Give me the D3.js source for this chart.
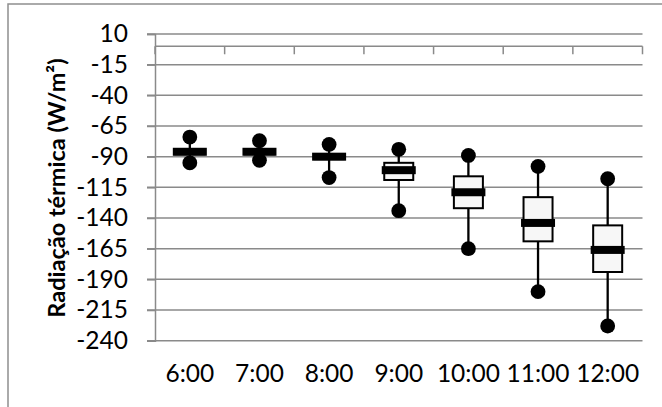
<!DOCTYPE html>
<html><head><meta charset="utf-8">
<script src="https://cdn.jsdelivr.net/npm/d3@7"></script>
<style>
html,body{margin:0;padding:0;background:#fff;}
svg{display:block;font-family:Lato,"Open Sans",sans-serif;}
</style></head>
<body><svg id="c" width="662" height="407"></svg>
<script>
const categories = ["6:00","7:00","8:00","9:00","10:00","11:00","12:00"];
const maxVals    = [-74, -77, -80, -84, -89, -98, -108];
const q3Vals     = [-84, -84, -88, -95, -106, -123, -146];
const medianVals = [-86, -86, -90, -101, -119, -144, -166];
const q1Vals     = [-88, -88, -92, -109, -132, -159, -184];
const minVals    = [-95, -93, -107, -134, -165, -200, -228];
const yTicks = [10,-15,-40,-65,-90,-115,-140,-165,-190,-215,-240];
const yTitle = "Radiação térmica (W/m²)";

const svg = d3.select("#c");
const pL = 155, pR = 642.5, pT = 34, pB = 340.7;
const grid = "#8a8a8a";

svg.append("rect").attr("x",8).attr("y",4).attr("width",700).attr("height",500)
  .attr("fill","none").attr("stroke","#8f8f8f").attr("stroke-width",1.5);

const x = d3.scaleBand().domain(categories).range([pL,pR]).paddingInner(0).paddingOuter(0);
const y = d3.scaleLinear().domain([-240,10]).range([pB,pT]);

// gridlines
svg.append("g").selectAll("line").data(yTicks).join("line")
  .attr("x1",pL-8).attr("x2",pR).attr("y1",d=>y(d)).attr("y2",d=>y(d))
  .attr("stroke",grid).attr("stroke-width",1.5);

// y axis
const ya = svg.append("g").attr("transform",`translate(${pL},0)`)
  .call(d3.axisLeft(y).tickValues(yTicks).tickSize(8).tickPadding(19).tickFormat(d=>String(d)));
ya.select(".domain").attr("stroke",grid).attr("stroke-width",1.5);
ya.selectAll(".tick line").attr("stroke",grid).attr("stroke-width",1.5);
ya.selectAll("text").attr("font-size",24.5).attr("font-family","Lato").attr("fill","#000");

// x axis at zero with boundary ticks
const za = svg.append("g");
za.append("line").attr("x1",pL).attr("x2",pR).attr("y1",y(0)).attr("y2",y(0))
  .attr("stroke",grid).attr("stroke-width",1.5);
const edges = categories.map(c=>x(c)).concat([x.range()[1]]);
za.selectAll("line.t").data(edges).join("line").attr("class","t")
  .attr("x1",d=>d).attr("x2",d=>d).attr("y1",y(0)).attr("y2",y(0)+8)
  .attr("stroke",grid).attr("stroke-width",1.5);

// category labels
const xa = svg.append("g").attr("transform",`translate(0,${pB})`)
  .call(d3.axisBottom(x).tickSize(0).tickPadding(24));
xa.select(".domain").remove();
xa.selectAll("text").attr("font-size",24.5).attr("font-family","Lato").attr("fill","#000");

// boxes
const data = categories.map((c,i)=>({c,max:maxVals[i],q3:q3Vals[i],med:medianVals[i],q1:q1Vals[i],min:minVals[i]}));
const g = svg.append("g").selectAll("g").data(data).join("g")
  .attr("transform",d=>`translate(${x(d.c)+x.bandwidth()/2},0)`);
g.append("line").attr("y1",d=>y(d.max)).attr("y2",d=>y(d.min))
  .attr("stroke","#000").attr("stroke-width",2.3);
g.append("rect").attr("x",-14.5).attr("width",29)
  .attr("y",d=>y(d.q3)).attr("height",d=>y(d.q1)-y(d.q3))
  .attr("fill","#f7f7f7").attr("stroke","#000").attr("stroke-width",2);
g.append("rect").attr("x",-17).attr("width",34)
  .attr("y",d=>y(d.med)-4).attr("height",8).attr("fill","#000");
g.append("circle").attr("cy",d=>y(d.max)).attr("r",7.4).attr("fill","#000");
g.append("circle").attr("cy",d=>y(d.min)).attr("r",7.4).attr("fill","#000");

// y title
svg.append("text").attr("transform",`translate(65,188) rotate(-90)`)
  .attr("text-anchor","middle").attr("font-weight","bold").attr("font-size",23.5)
  .attr("font-family","Lato").attr("fill","#000").text(yTitle);
</script></body></html>
